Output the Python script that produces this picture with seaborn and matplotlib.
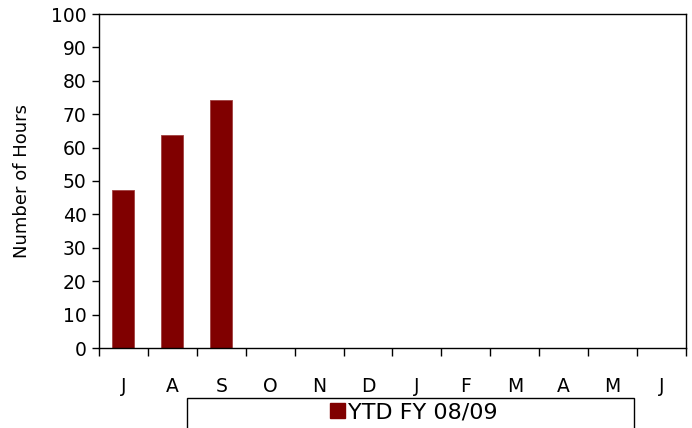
import matplotlib
matplotlib.use("Agg")
import matplotlib.pyplot as plt
import matplotlib.patches as mpatches
import seaborn as sns
import pandas as pd
import numpy as np

categories = ["Jul", "Aug", "Sep", "Oct", "Nov", "Dec", "Jan", "Feb", "Mar", "Apr", "May", "Jun"]
tick_labels = ["J", "A", "S", "O", "N", "D", "J", "F", "M", "A", "M", "J"]
data_months = ["Jul", "Aug", "Sep"]
hours = [47.3, 63.8, 74.3]
series_name = "YTD FY 08/09"

sns.set_theme(style="white", rc={"text.color": "black", "axes.labelcolor": "black",
                                 "xtick.color": "black", "ytick.color": "black"})
plt.rcParams['font.family'] = ['DejaVu Sans']

df = pd.DataFrame({"month": data_months, "hours": hours})

fig = plt.figure(figsize=(6.92, 4.28), dpi=100)
ax = fig.add_axes([99/692, 1-348/428, (686-99)/692, (348-14)/428])

sns.barplot(data=df, x="month", y="hours", order=categories, color="#800000",
            saturation=1, width=0.45, ax=ax, edgecolor="#a04040", linewidth=0.6)

ax.set_xlim(-0.5, 11.5)
ax.set_ylim(0, 100)
ax.set_yticks(np.arange(0, 101, 10))
ax.tick_params(axis="y", labelsize=13.5, length=5, width=1, color="black", direction="out", left=True, pad=4)

ax.set_xticks(np.arange(-0.5, 12, 1))
ax.set_xticklabels([])
ax.set_xticks(np.arange(0, 12), minor=True)
ax.set_xticklabels(tick_labels, minor=True)
ax.tick_params(axis="x", which="major", length=6, width=1, color="black", direction="out", bottom=True)
ax.tick_params(axis="x", which="minor", length=0, labelsize=13.5, pad=21)

ax.set_xlabel("")
ax.set_ylabel("Number of Hours", fontsize=13, labelpad=14)

for s in ax.spines.values():
    s.set_visible(True)
    s.set_color("black")
    s.set_linewidth(1)

# legend box
rect = mpatches.Rectangle((187/692, -0.05), (634-187)/692, (428-398)/428 + 0.05,
                          transform=fig.transFigure, fill=False, edgecolor="black",
                          linewidth=1, clip_on=False)
fig.patches.append(rect)
handle = mpatches.Patch(facecolor="#800000", edgecolor="#800000", label=series_name)
fig.legend(handles=[handle], loc="center", bbox_to_anchor=(414/692, 1-412/428),
           frameon=False, fontsize=16, handlelength=0.65, handleheight=0.65,
           handletextpad=0.15, borderpad=0)

fig.savefig("out.png", dpi=100)
